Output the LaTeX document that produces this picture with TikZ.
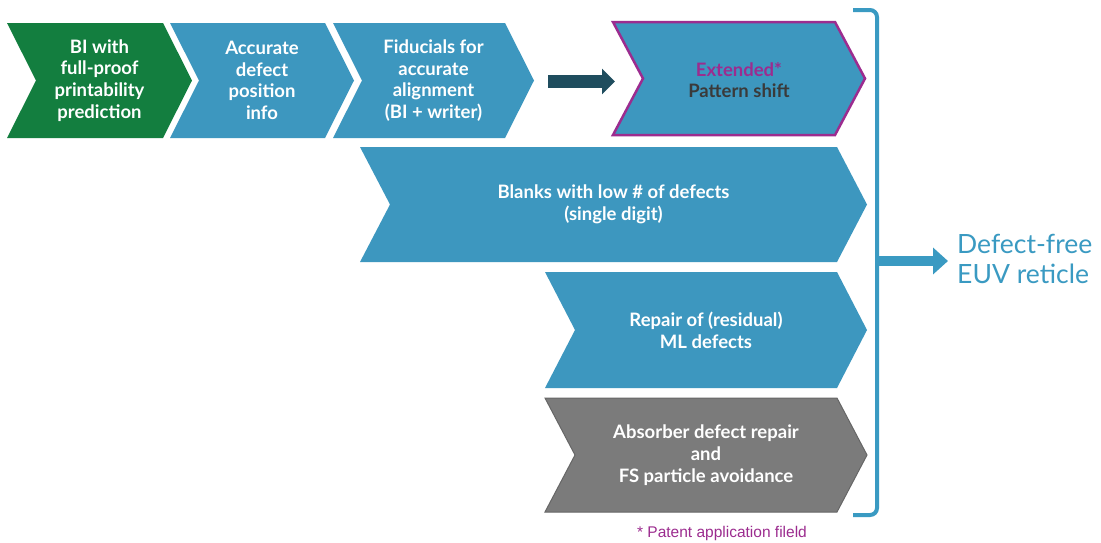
\documentclass[tikz,border=0pt]{standalone}
\usepackage{fontspec}
\setmainfont{Lato}
\newfontfamily\arialfont{Liberation Sans}
\usetikzlibrary{arrows.meta}
\definecolor{cblue}{HTML}{3D97BF}
\definecolor{cgreen}{HTML}{137E3F}
\definecolor{cgray}{HTML}{7B7B7B}
\definecolor{cgrayedge}{HTML}{666666}
\definecolor{cpurple}{HTML}{9C2C8F}
\definecolor{cdark}{HTML}{3A3A3A}
\definecolor{carrow}{HTML}{1F4D5E}
\definecolor{coutblue}{HTML}{3A9AC2}
\tikzset{
  lbl/.style={text=white, align=center, inner sep=0pt, font=\fontsize{18.5}{21.7}\selectfont\bfseries},
  bluechev/.style={fill=cblue},
  greenchev/.style={fill=cgreen},
  graychev/.style={fill=cgray, draw=cgrayedge, line width=1},
  extchev/.style={fill=cblue, draw=cpurple, line width=2.5, line join=miter},
  fatarrow/.style={carrow, line width=13, -{Triangle[length=13pt 0 1, width=25pt 0 1]}},
  outarrow/.style={coutblue, line width=10, -{Triangle[length=15pt 0 1, width=26pt 0 1]}},
  bracket/.style={coutblue, line width=4, rounded corners=7},
  outtext/.style={text=coutblue, align=left, inner sep=0pt, font=\fontsize{26.5}{30}\selectfont},
  note/.style={text=cpurple, inner sep=0pt, font=\arialfont\fontsize{15.5}{18}\selectfont}
}
\begin{document}
\begin{tikzpicture}[x=1pt,y=-1pt]
\useasboundingbox[fill=white] (0,0) rectangle (1101,542);

% top row
\fill[greenchev] (7,23) -- (163,23) -- (192,80.5) -- (163,138) -- (7,138) -- (36,80.5) -- cycle;
\node[lbl] (bi) at (99.5,80.5) {BI with\\full-proof\\printability\\prediction};

\fill[bluechev] (170,23) -- (325,23) -- (354,80.5) -- (325,138) -- (170,138) -- (199,80.5) -- cycle;
\node[lbl] (acc) at (262,80.5) {Accurate\\defect\\position\\info};

\fill[bluechev] (333,23) -- (505,23) -- (534,80.5) -- (505,138) -- (333,138) -- (362,80.5) -- cycle;
\node[lbl] (fid) at (433.5,80.5) {Fiducials for\\accurate\\alignment\\(BI + writer)};

\coordinate (a1s) at (548,81.5);
\coordinate (a1e) at (615,81.5);
\draw[fatarrow] (a1s) -- (a1e);

\draw[extchev] (613,22) -- (835,22) -- (865,78.5) -- (835,135) -- (613,135) -- (643,78.5) -- cycle;
\node[lbl] (ext) at (739,80) {\textcolor{cpurple}{Extended*}\\\textcolor{cdark}{Pattern shift}};

% blanks
\fill[bluechev] (360,147) -- (837,147) -- (867,204.5) -- (837,262) -- (360,262) -- (390,204.5) -- cycle;
\node[lbl] (blank) at (613.5,204.5) {Blanks with low \# of defects\\(single digit)};

% repair
\fill[bluechev] (545,272) -- (837,272) -- (867,330) -- (837,388) -- (545,388) -- (575,330) -- cycle;
\node[lbl] (rep) at (706,330) {Repair of (residual)\\ML defects};

% absorber
\filldraw[graychev] (545,398) -- (837,398) -- (867,455) -- (837,512) -- (545,512) -- (575,455) -- cycle;
\node[lbl] (abs) at (706,455) {Absorber defect repair\\and\\FS particle avoidance};

% bracket and output
\draw[bracket] (853,10) -- (877,10) -- (877,515) -- (853,515);
\coordinate (brm) at (877,261);
\node[outtext, anchor=west] (out) at (957,259) {Defect-free\\EUV reticle};
\draw[outarrow, shorten >=9pt] (brm) -- (out.west |- brm);

\node[note] (pat) at (722,533) {* Patent application fileld};
\end{tikzpicture}
\end{document}
